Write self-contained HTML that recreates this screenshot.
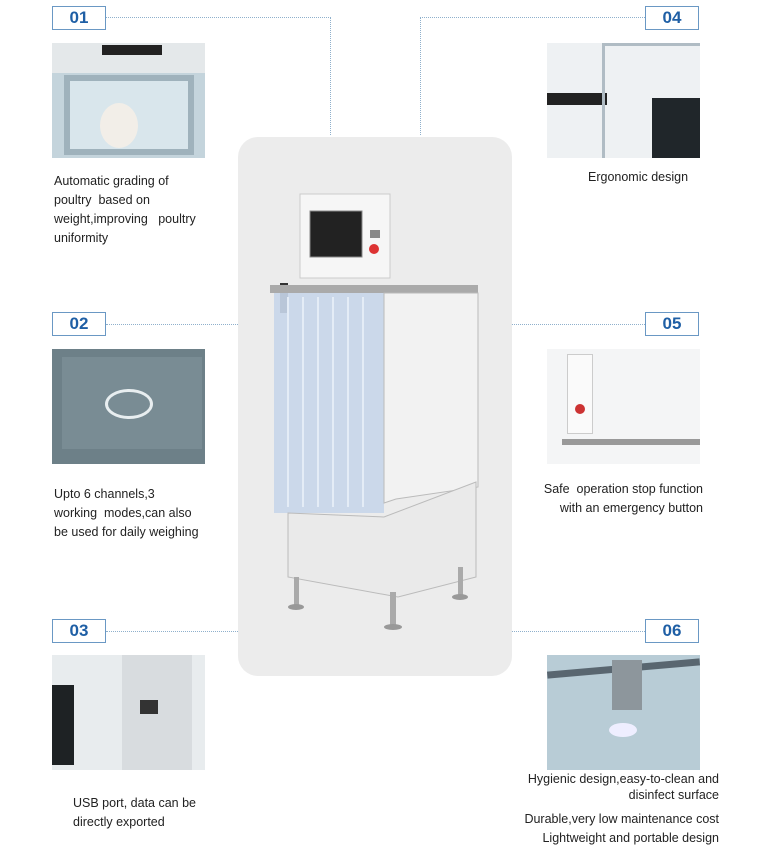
<!DOCTYPE html>
<html><head><meta charset="utf-8"><style>
*{margin:0;padding:0;box-sizing:border-box}
body{width:762px;height:855px;background:#fff;position:relative;overflow:hidden;font-family:"Liberation Sans",sans-serif;color:#222}
.a{position:absolute}
.badge{position:absolute;width:54px;height:24px;border:1.5px solid #6a98c4;color:#1f5fa5;font-weight:bold;font-size:17px;text-align:center;line-height:21px;background:#fff}
.h{position:absolute;border-top:1.5px dotted #8fb0cc;height:0}
.v{position:absolute;border-left:1.5px dotted #8fb0cc;width:0}
.img{position:absolute;width:153px;height:115px;overflow:hidden}
.t{position:absolute;font-size:12.5px;line-height:19px}
</style></head><body>
<!-- connectors -->
<div class="h" style="left:106px;top:17px;width:225px"></div>
<div class="v" style="left:330px;top:17px;height:118px"></div>
<div class="h" style="left:420px;top:17px;width:225px"></div>
<div class="v" style="left:420px;top:17px;height:118px"></div>
<div class="h" style="left:106px;top:324px;width:132px"></div>
<div class="h" style="left:512px;top:324px;width:133px"></div>
<div class="h" style="left:106px;top:631px;width:132px"></div>
<div class="h" style="left:512px;top:631px;width:133px"></div>

<div class="badge" style="left:52px;top:6px">01</div>
<div class="badge" style="left:645px;top:6px">04</div>
<div class="badge" style="left:52px;top:312px">02</div>
<div class="badge" style="left:645px;top:312px">05</div>
<div class="badge" style="left:52px;top:619px">03</div>
<div class="badge" style="left:645px;top:619px">06</div>

<!-- center panel -->
<div class="a" style="left:238px;top:137px;width:274px;height:539px;background:#ececec;border-radius:20px"></div>
<svg class="a" style="left:238px;top:137px" width="274" height="539">
 <rect x="42" y="146" width="8" height="30" fill="#333"/>
 <rect x="62" y="57" width="90" height="84" fill="#f6f6f6" stroke="#ccc"/>
 <rect x="72" y="74" width="52" height="46" fill="#222" stroke="#888"/>
 <circle cx="136" cy="112" r="5" fill="#d33"/>
 <rect x="132" y="93" width="10" height="8" fill="#888"/>
 <rect x="32" y="148" width="208" height="8" fill="#aaa"/>
 <rect x="36" y="156" width="110" height="220" fill="#c8d6ea" opacity="0.9"/>
 <g stroke="#e4ecf6" stroke-width="2"><line x1="50" y1="160" x2="50" y2="370"/><line x1="65" y1="160" x2="65" y2="370"/><line x1="80" y1="160" x2="80" y2="370"/><line x1="95" y1="160" x2="95" y2="370"/><line x1="110" y1="160" x2="110" y2="370"/><line x1="125" y1="160" x2="125" y2="370"/></g>
 <polygon points="146,156 240,156 240,350 158,362 146,366" fill="#f2f2f2" stroke="#bbb"/>
 <polygon points="50,376 146,380 238,345 238,440 160,460 50,440" fill="#eaeaea" stroke="#bbb"/>
 <g fill="#aaa"><rect x="56" y="440" width="5" height="30"/><rect x="152" y="455" width="6" height="35"/><rect x="220" y="430" width="5" height="30"/></g>
 <g fill="#999"><ellipse cx="58" cy="470" rx="8" ry="3"/><ellipse cx="155" cy="490" rx="9" ry="3"/><ellipse cx="222" cy="460" rx="8" ry="3"/></g>
</svg>

<!-- images -->
<div class="img" style="left:52px;top:43px;background:#c4d4dc">
 <div class="a" style="left:0;top:0;width:153px;height:30px;background:#e4e8ea"></div>
 <div class="a" style="left:50px;top:2px;width:60px;height:10px;background:#222"></div>
 <div class="a" style="left:12px;top:32px;width:130px;height:80px;background:#d9e6ec;border:6px solid #9fb2bc"></div>
 <div class="a" style="left:48px;top:60px;width:38px;height:45px;background:#f2eee8;border-radius:50%"></div>
</div>
<div class="img" style="left:547px;top:43px;background:#eef1f3">
 <div class="a" style="left:0;top:50px;width:60px;height:12px;background:#222"></div>
 <div class="a" style="left:105px;top:55px;width:48px;height:60px;background:#20262a"></div>
 <div class="a" style="left:55px;top:0;width:98px;height:115px;border-left:3px solid #b0bcc4;border-top:3px solid #b0bcc4"></div>
</div>
<div class="img" style="left:52px;top:349px;background:#6d8088">
 <div class="a" style="left:10px;top:8px;width:140px;height:92px;background:#798c94"></div>
 <div class="a" style="left:53px;top:40px;width:48px;height:30px;border:3px solid #e8eef0;border-radius:50%"></div>
</div>
<div class="img" style="left:547px;top:349px;background:#f4f5f6">
 <div class="a" style="left:20px;top:5px;width:26px;height:80px;background:#fafafa;border:1px solid #ccc"></div>
 <div class="a" style="left:28px;top:55px;width:10px;height:10px;background:#c33;border-radius:50%"></div>
 <div class="a" style="left:15px;top:90px;width:138px;height:6px;background:#999"></div>
</div>
<div class="img" style="left:52px;top:655px;background:#e8ecee">
 <div class="a" style="left:0;top:30px;width:22px;height:80px;background:#1e2224"></div>
 <div class="a" style="left:70px;top:0;width:70px;height:115px;background:#d8dcdf"></div>
 <div class="a" style="left:88px;top:45px;width:18px;height:14px;background:#333"></div>
</div>
<div class="img" style="left:547px;top:655px;background:#b8ccd6">
 <div class="a" style="left:0;top:10px;width:153px;height:7px;background:#596670;transform:rotate(-5deg)"></div>
 <div class="a" style="left:65px;top:5px;width:30px;height:50px;background:#8d969c"></div>
 <div class="a" style="left:62px;top:68px;width:28px;height:14px;background:#eef;border-radius:50%"></div>
</div>

<!-- texts -->
<div class="t" style="left:54px;top:172px;width:160px">Automatic grading of<br>poultry&nbsp; based on<br>weight,improving&nbsp;&nbsp; poultry<br>uniformity</div>
<div class="t" style="left:588px;top:168px">Ergonomic design</div>
<div class="t" style="left:54px;top:485px">Upto 6 channels,3<br>working&nbsp; modes,can also<br>be used for daily weighing</div>
<div class="t" style="left:520px;top:480px;width:183px;text-align:right">Safe&nbsp; operation stop function<br>with an emergency button</div>
<div class="t" style="left:73px;top:794px">USB port, data can be<br>directly exported</div>
<div class="t" style="left:480px;top:771px;width:239px;text-align:right;line-height:16px">Hygienic design,easy-to-clean and<br>disinfect surface</div>
<div class="t" style="left:480px;top:810px;width:239px;text-align:right">Durable,very low maintenance cost</div>
<div class="t" style="left:480px;top:829px;width:239px;text-align:right">Lightweight and portable design</div>
</body></html>
